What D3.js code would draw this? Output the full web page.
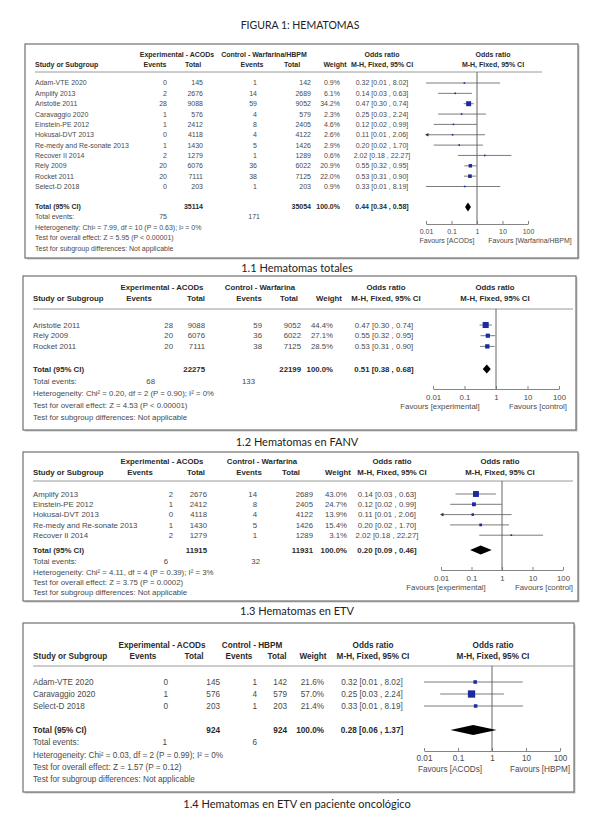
<!DOCTYPE html>
<html><head><meta charset="utf-8">
<script src="https://cdn.jsdelivr.net/npm/d3@7"></script>
<style>body{margin:0;background:#fff}svg{display:block}</style>
</head><body>
<svg id="c" width="600" height="832"></svg>
<script>
// ---------------- DATA ----------------
const figureTitle = "FIGURA 1: HEMATOMAS";
const tickValues = [0.01, 0.1, 1, 10, 100];
const tickLabels = ["0.01", "0.1", "1", "10", "100"];

// 1.1 Hematomas totales
const p1Caption = "1.1 Hematomas totales";
const p1Studies = ["Adam-VTE 2020","Amplify 2013","Aristotle 2011","Caravaggio 2020","Einstein-PE 2012","Hokusai-DVT 2013","Re-medy and Re-sonate 2013","Recover II 2014","Rely 2009","Rocket 2011","Select-D 2018"];
const p1ExpEvents = [0,2,28,1,1,0,1,2,20,20,0];
const p1ExpTotal = [145,2676,9088,576,2412,4118,1430,1279,6076,7111,203];
const p1CtlEvents = [1,14,59,4,8,4,5,1,36,38,1];
const p1CtlTotal = [142,2689,9052,579,2405,4122,1426,1289,6022,7125,203];
const p1Weight = [0.9,6.1,34.2,2.3,4.6,2.6,2.9,0.6,20.9,22.0,0.9];
const p1OR = [0.32,0.14,0.47,0.25,0.12,0.11,0.20,2.02,0.55,0.53,0.33];
const p1Low = [0.01,0.03,0.30,0.03,0.02,0.01,0.02,0.18,0.32,0.31,0.01];
const p1High = [8.02,0.63,0.74,2.24,0.99,2.06,1.70,22.27,0.95,0.90,8.19];
const p1Clipped = [false,false,false,false,false,true,false,false,false,false,false];
const p1Total = {exp:35114, ctl:35054, or:0.44, low:0.34, high:0.58, expEv:75, ctlEv:171};
const p1Texts = ["Heterogeneity: Chi² = 7.99, df = 10 (P = 0.63); I² = 0%","Test for overall effect: Z = 5.95 (P < 0.00001)","Test for subgroup differences: Not applicable"];
const p1Groups = ["Experimental - ACODs","Control - Warfarina/HBPM"];
const p1Favours = ["Favours [ACODs]","Favours [Warfarina/HBPM]"];

// 1.2 Hematomas en FANV
const p2Caption = "1.2 Hematomas en FANV";
const p2Studies = ["Aristotle 2011","Rely 2009","Rocket 2011"];
const p2ExpEvents = [28,20,20];
const p2ExpTotal = [9088,6076,7111];
const p2CtlEvents = [59,36,38];
const p2CtlTotal = [9052,6022,7125];
const p2Weight = [44.4,27.1,28.5];
const p2OR = [0.47,0.55,0.53];
const p2Low = [0.30,0.32,0.31];
const p2High = [0.74,0.95,0.90];
const p2Clipped = [false,false,false];
const p2Total = {exp:22275, ctl:22199, or:0.51, low:0.38, high:0.68, expEv:68, ctlEv:133};
const p2Texts = ["Heterogeneity: Chi² = 0.20, df = 2 (P = 0.90); I² = 0%","Test for overall effect: Z = 4.53 (P < 0.00001)","Test for subgroup differences: Not applicable"];
const p2Groups = ["Experimental - ACODs","Control - Warfarina"];
const p2Favours = ["Favours [experimental]","Favours [control]"];

// 1.3 Hematomas en ETV
const p3Caption = "1.3 Hematomas en ETV";
const p3Studies = ["Amplify 2013","Einstein-PE 2012","Hokusai-DVT 2013","Re-medy and Re-sonate 2013","Recover II 2014"];
const p3ExpEvents = [2,1,0,1,2];
const p3ExpTotal = [2676,2412,4118,1430,1279];
const p3CtlEvents = [14,8,4,5,1];
const p3CtlTotal = [2689,2405,4122,1426,1289];
const p3Weight = [43.0,24.7,13.9,15.4,3.1];
const p3OR = [0.14,0.12,0.11,0.20,2.02];
const p3Low = [0.03,0.02,0.01,0.02,0.18];
const p3High = [0.63,0.99,2.06,1.70,22.27];
const p3Clipped = [false,false,true,false,false];
const p3Total = {exp:11915, ctl:11931, or:0.20, low:0.09, high:0.46, expEv:6, ctlEv:32};
const p3Texts = ["Heterogeneity: Chi² = 4.11, df = 4 (P = 0.39); I² = 3%","Test for overall effect: Z = 3.75 (P = 0.0002)","Test for subgroup differences: Not applicable"];
const p3Groups = ["Experimental - ACODs","Control - Warfarina"];
const p3Favours = ["Favours [experimental]","Favours [control]"];

// 1.4 Hematomas en ETV en paciente oncológico
const p4Caption = "1.4 Hematomas en ETV en paciente oncológico";
const p4Studies = ["Adam-VTE 2020","Caravaggio 2020","Select-D 2018"];
const p4ExpEvents = [0,1,0];
const p4ExpTotal = [145,576,203];
const p4CtlEvents = [1,4,1];
const p4CtlTotal = [142,579,203];
const p4Weight = [21.6,57.0,21.4];
const p4OR = [0.32,0.25,0.33];
const p4Low = [0.01,0.03,0.01];
const p4High = [8.02,2.24,8.19];
const p4Clipped = [false,false,false];
const p4Total = {exp:924, ctl:924, or:0.28, low:0.06, high:1.37, expEv:1, ctlEv:6};
const p4Texts = ["Heterogeneity: Chi² = 0.03, df = 2 (P = 0.99); I² = 0%","Test for overall effect: Z = 1.57 (P = 0.12)","Test for subgroup differences: Not applicable"];
const p4Groups = ["Experimental - ACODs","Control - HBPM"];
const p4Favours = ["Favours [ACODs]","Favours [HBPM]"];

// ---------------- LAYOUT ----------------
const L1 = {box:[25,44,578,258], fs:7, h1:55, h2:65, hline:72, hlineX:[35,542], row0:83, step:10.35, totalY:207, foot:[217,228,238,249], axisY:224, tickY:232, favY:241, capY:268,
  study:35, expEv:167, expTot:203, ctlEv:257, ctlTot:311, weight:340, orC:382, grpExp:177, grpCtl:264, evH:155, totH:193, evH2:252, totH2:292, weightH:335, orH:382, fH:493, c:477, dec:25.5, favL:447, favR:530, totEvExp:167, totEvCtl:260, diaH:9};
const L2 = {box:[23,276,576,430], fs:7.8, h1:287, h2:298, hline:309, hlineX:[33,573], row0:325, step:10.7, totalY:369, foot:[381,393,405,417], axisY:389, tickY:397, favY:406, capY:442,
  study:33, expEv:173, expTot:205, ctlEv:262, ctlTot:301, weight:333, orC:384, grpExp:162, grpCtl:260, evH:139, totH:196, evH2:249, totH2:289, weightH:329, orH:386, fH:495, c:496, dec:31.5, favL:440, favR:538, totEvExp:155, totEvCtl:255, diaH:9};
const L3 = {box:[23,452,578,601], fs:7.8, h1:461, h2:472, hline:481, hlineX:[33,573], row0:494, step:10.3, totalY:550, foot:[561,572,582,592], axisY:570, tickY:578, favY:587, capY:611,
  study:33, expEv:173, expTot:207, ctlEv:257, ctlTot:313, weight:347, orC:387, grpExp:162, grpCtl:262, evH:140, totH:196, evH2:249, totH2:291, weightH:338, orH:392, fH:500, c:502, dec:30.5, favL:446, favR:544, totEvExp:168, totEvCtl:260, diaH:9};
const L4 = {box:[23,623,574,792], fs:8.2, h1:645, h2:656, hline:666, hlineX:[33,574], row0:682, step:12, totalY:730, foot:[742,755,767,779], axisY:751, tickY:758, favY:769, capY:804,
  study:33, expEv:168, expTot:220, ctlEv:257, ctlTot:287, weight:324, orC:372, grpExp:162, grpCtl:252, evH:143, totH:194, evH2:239, totH2:277, weightH:313, orH:373, fH:493, c:492, dec:34, favL:450, favR:540, totEvExp:167, totEvCtl:257, diaH:10};

const FONT = "'Liberation Sans', Arial, sans-serif";
const CAPFONT = "Lato, 'Open Sans', sans-serif";
const svg = d3.select("#c");

svg.append("text").attr("x", 300).attr("y", 25).attr("dy", "0.35em").attr("text-anchor", "middle")
  .attr("font-family", CAPFONT).attr("font-size", 10.5).attr("fill", "#222").text(figureTitle);

const f2 = d3.format(".2f"), f1 = d3.format(".1f");
const orText = (o, l, h) => `${f2(o)} [${f2(l)} , ${f2(h)}]`;
const sqScale = d3.scalePow().exponent(0.75).domain([0, 57]).range([0, 7.3]);

function drawPanel(P, L) {
  const g = svg.append("g").attr("font-family", FONT).attr("font-size", L.fs);
  const [bx0, by0, bx1, by1] = L.box;
  g.append("rect").attr("x", bx0 + 1.5).attr("y", by0 + 1.5).attr("width", bx1 - bx0).attr("height", by1 - by0).attr("fill", "#c4c4c4");
  g.append("rect").attr("x", bx0).attr("y", by0).attr("width", bx1 - bx0).attr("height", by1 - by0)
    .attr("fill", "#fff").attr("stroke", "#707070").attr("stroke-width", 1.2);

  const x = d3.scaleLog().domain([0.01, 100]).range([L.c - 2 * L.dec, L.c + 2 * L.dec]);
  const y = d3.scaleLinear().domain([0, 1]).range([L.row0, L.row0 + L.step]);

  const txt = (xx, yy, s, anchor, bold) => g.append("text").attr("x", xx).attr("y", yy).attr("dy", "0.35em")
    .attr("text-anchor", anchor).attr("font-weight", bold ? "bold" : null).attr("fill", bold ? "#2a2a2a" : "#4a4a4a").text(s);

  // headers
  txt(L.grpExp, L.h1, P.groups[0], "middle", true);
  txt(L.grpCtl, L.h1, P.groups[1], "middle", true);
  txt(L.orH, L.h1, "Odds ratio", "middle", true);
  txt(L.fH, L.h1, "Odds ratio", "middle", true);
  txt(L.study, L.h2, "Study or Subgroup", "start", true);
  txt(L.evH, L.h2, "Events", "middle", true);
  txt(L.totH, L.h2, "Total", "middle", true);
  txt(L.evH2, L.h2, "Events", "middle", true);
  txt(L.totH2, L.h2, "Total", "middle", true);
  txt(L.weightH, L.h2, "Weight", "middle", true);
  txt(L.orH, L.h2, "M-H, Fixed, 95% CI", "middle", true);
  txt(L.fH, L.h2, "M-H, Fixed, 95% CI", "middle", true);
  g.append("line").attr("x1", L.hlineX[0]).attr("x2", L.hlineX[1]).attr("y1", L.hline).attr("y2", L.hline)
    .attr("stroke", "#9a9a9a").attr("stroke-width", 1);

  const rows = P.studies.map((s, i) => ({i, s, ee: P.expEv[i], et: P.expTot[i], ce: P.ctlEv[i], ct: P.ctlTot[i],
    w: P.weight[i], or: P.or[i], lo: P.low[i], hi: P.high[i], clip: P.clipped[i]}));

  const cols = [
    {x: L.study, a: "start", f: r => r.s},
    {x: L.expEv, a: "end", f: r => r.ee},
    {x: L.expTot, a: "end", f: r => r.et},
    {x: L.ctlEv, a: "end", f: r => r.ce},
    {x: L.ctlTot, a: "end", f: r => r.ct},
    {x: L.weight, a: "end", f: r => f1(r.w) + "%"},
    {x: L.orC, a: "middle", f: r => orText(r.or, r.lo, r.hi)}
  ];
  cols.forEach(c => {
    g.append("g").selectAll("text").data(rows).join("text")
      .attr("x", c.x).attr("y", r => y(r.i)).attr("dy", "0.35em").attr("text-anchor", c.a)
      .attr("fill", "#4a4a4a").text(c.f);
  });

  // vertical line of no effect
  g.append("line").attr("x1", x(1)).attr("x2", x(1)).attr("y1", L.hline).attr("y2", L.axisY)
    .attr("stroke", "#555").attr("stroke-width", 0.9);

  // CI lines
  g.append("g").selectAll("line").data(rows).join("line")
    .attr("x1", r => x(r.lo)).attr("x2", r => x(r.hi)).attr("y1", r => y(r.i)).attr("y2", r => y(r.i))
    .attr("stroke", "#5a5a5a").attr("stroke-width", 0.8);
  g.append("g").selectAll("path").data(rows.filter(r => r.clip)).join("path")
    .attr("d", r => { const x0 = x(r.lo), yy = y(r.i); return `M${x0 - 1},${yy}L${x0 + 2.5},${yy - 1.8}L${x0 + 2.5},${yy + 1.8}Z`; })
    .attr("fill", "#333");
  // squares
  g.append("g").selectAll("rect").data(rows).join("rect")
    .attr("x", r => x(r.or) - Math.max(1.6, sqScale(r.w)) / 2)
    .attr("y", r => y(r.i) - Math.max(1.6, sqScale(r.w)) / 2)
    .attr("width", r => Math.max(1.6, sqScale(r.w))).attr("height", r => Math.max(1.6, sqScale(r.w)))
    .attr("fill", "#1b2a9e");

  // total row
  const T = P.total;
  txt(L.study, L.totalY, "Total (95% CI)", "start", true);
  txt(L.expTot, L.totalY, T.exp, "end", true);
  txt(L.ctlTot, L.totalY, T.ctl, "end", true);
  txt(L.weight, L.totalY, "100.0%", "end", true);
  txt(L.orC, L.totalY, orText(T.or, T.low, T.high), "middle", true);
  const h = L.diaH / 2;
  g.append("path").datum(T)
    .attr("d", t => `M${x(t.low)},${L.totalY}L${x(t.or)},${L.totalY - h}L${x(t.high)},${L.totalY}L${x(t.or)},${L.totalY + h}Z`)
    .attr("fill", "#000");

  // footer
  txt(L.study, L.foot[0], "Total events:", "start", false);
  txt(L.totEvExp, L.foot[0], T.expEv, "end", false);
  txt(L.totEvCtl, L.foot[0], T.ctlEv, "end", false);
  P.texts.forEach((t, k) => txt(L.study, L.foot[k + 1], t, "start", false));

  // axis
  const axis = d3.axisBottom(x).tickValues(tickValues).tickFormat((v, i) => tickLabels[i])
    .tickSizeInner(-3).tickSizeOuter(0).tickPadding(L.tickY - L.axisY - 0.36 * L.fs);
  const ag = g.append("g").attr("transform", `translate(0,${L.axisY})`).call(axis)
    .attr("font-family", FONT).attr("font-size", L.fs);
  ag.select(".domain").attr("stroke", "#666").attr("stroke-width", 0.8);
  ag.selectAll(".tick line").attr("stroke", "#666").attr("stroke-width", 0.8);
  ag.selectAll(".tick text").attr("fill", "#4a4a4a");
  txt(L.favL, L.favY, P.favours[0], "middle", false);
  txt(L.favR, L.favY, P.favours[1], "middle", false);

  // caption
  svg.append("text").attr("x", 297).attr("y", L.capY).attr("dy", "0.35em").attr("text-anchor", "middle")
    .attr("font-family", CAPFONT).attr("font-size", 11).attr("fill", "#222").text(P.caption);
}

const panels = [
  [{caption: p1Caption, studies: p1Studies, expEv: p1ExpEvents, expTot: p1ExpTotal, ctlEv: p1CtlEvents, ctlTot: p1CtlTotal, weight: p1Weight, or: p1OR, low: p1Low, high: p1High, clipped: p1Clipped, total: p1Total, texts: p1Texts, groups: p1Groups, favours: p1Favours}, L1],
  [{caption: p2Caption, studies: p2Studies, expEv: p2ExpEvents, expTot: p2ExpTotal, ctlEv: p2CtlEvents, ctlTot: p2CtlTotal, weight: p2Weight, or: p2OR, low: p2Low, high: p2High, clipped: p2Clipped, total: p2Total, texts: p2Texts, groups: p2Groups, favours: p2Favours}, L2],
  [{caption: p3Caption, studies: p3Studies, expEv: p3ExpEvents, expTot: p3ExpTotal, ctlEv: p3CtlEvents, ctlTot: p3CtlTotal, weight: p3Weight, or: p3OR, low: p3Low, high: p3High, clipped: p3Clipped, total: p3Total, texts: p3Texts, groups: p3Groups, favours: p3Favours}, L3],
  [{caption: p4Caption, studies: p4Studies, expEv: p4ExpEvents, expTot: p4ExpTotal, ctlEv: p4CtlEvents, ctlTot: p4CtlTotal, weight: p4Weight, or: p4OR, low: p4Low, high: p4High, clipped: p4Clipped, total: p4Total, texts: p4Texts, groups: p4Groups, favours: p4Favours}, L4]
];
panels.forEach(([P, L]) => drawPanel(P, L));
</script>
</body></html>
